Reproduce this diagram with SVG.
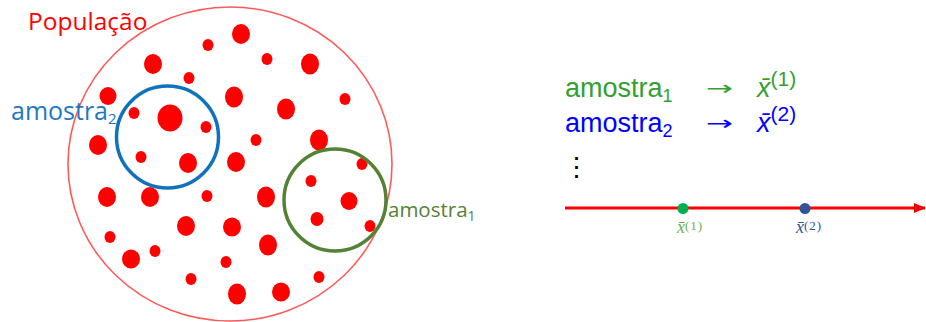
<svg xmlns="http://www.w3.org/2000/svg" width="926" height="322" viewBox="0 0 926 322">
<style>
.dot{fill:#ff0000}
.lbl{font-family:"Open Sans","Liberation Sans",sans-serif}
.tex{font-family:"Liberation Sans",Arial,sans-serif;font-size:27px}
.sub{font-size:18px}
.sup{font-size:21px}
.arr{font-family:"DejaVu Sans",sans-serif;font-size:20px}
.xb{font-family:"Liberation Serif","DejaVu Serif",serif;font-style:italic}
.bsup{font-size:13px;font-style:normal;letter-spacing:1px}
</style>
<defs>
<marker id="ah" viewBox="0 0 12 10" refX="11" refY="5" markerWidth="12" markerHeight="10" markerUnits="userSpaceOnUse" orient="auto">
<path d="M0,0 L12,5 L0,10 Z" fill="#ff0000"/>
</marker>
</defs>
<rect width="926" height="322" fill="#ffffff"/>

<g id="population">
<ellipse cx="230" cy="164" rx="162" ry="157" fill="none" stroke="#ff5a5a" stroke-width="1.6"/>
<g id="population-dots">
<ellipse class="dot" cx="153" cy="64" rx="9" ry="10"/>
<ellipse class="dot" cx="189" cy="78" rx="5.5" ry="6"/>
<ellipse class="dot" cx="108" cy="96" rx="8.5" ry="9"/>
<ellipse class="dot" cx="134" cy="113" rx="5.5" ry="6"/>
<ellipse class="dot" cx="170" cy="118" rx="12.5" ry="13.5"/>
<ellipse class="dot" cx="98" cy="145" rx="9" ry="10"/>
<ellipse class="dot" cx="141" cy="157" rx="5.5" ry="6"/>
<ellipse class="dot" cx="188" cy="163" rx="9" ry="10"/>
<ellipse class="dot" cx="241" cy="34" rx="9" ry="10"/>
<ellipse class="dot" cx="208" cy="45" rx="5.5" ry="6"/>
<ellipse class="dot" cx="267" cy="59" rx="5.5" ry="6"/>
<ellipse class="dot" cx="310" cy="64" rx="9" ry="10.5"/>
<ellipse class="dot" cx="234" cy="97" rx="9" ry="10.5"/>
<ellipse class="dot" cx="345" cy="99" rx="5.5" ry="6"/>
<ellipse class="dot" cx="286" cy="109" rx="9" ry="10.5"/>
<ellipse class="dot" cx="206" cy="127" rx="5.5" ry="6"/>
<ellipse class="dot" cx="256" cy="140" rx="5.5" ry="6"/>
<ellipse class="dot" cx="319" cy="140" rx="9" ry="10.5"/>
<ellipse class="dot" cx="236" cy="162" rx="9" ry="10"/>
<ellipse class="dot" cx="362" cy="164" rx="5.5" ry="6"/>
<ellipse class="dot" cx="311" cy="181" rx="5.5" ry="6"/>
<ellipse class="dot" cx="207" cy="196" rx="5.5" ry="6"/>
<ellipse class="dot" cx="266" cy="197" rx="9" ry="10.5"/>
<ellipse class="dot" cx="349" cy="201" rx="8.5" ry="9"/>
<ellipse class="dot" cx="317" cy="219" rx="6.5" ry="7"/>
<ellipse class="dot" cx="370" cy="226" rx="5.5" ry="6"/>
<ellipse class="dot" cx="186" cy="226" rx="9" ry="10"/>
<ellipse class="dot" cx="232" cy="227" rx="9" ry="9.5"/>
<ellipse class="dot" cx="268" cy="245" rx="9" ry="10.5"/>
<ellipse class="dot" cx="226" cy="262" rx="5.5" ry="6"/>
<ellipse class="dot" cx="191" cy="279" rx="5.5" ry="6"/>
<ellipse class="dot" cx="319" cy="277" rx="5.5" ry="6"/>
<ellipse class="dot" cx="237" cy="294" rx="9" ry="10.5"/>
<ellipse class="dot" cx="281" cy="292" rx="9" ry="9.5"/>
<ellipse class="dot" cx="107" cy="197" rx="9" ry="10"/>
<ellipse class="dot" cx="150" cy="197" rx="9" ry="10"/>
<ellipse class="dot" cx="110" cy="237" rx="5.5" ry="6"/>
<ellipse class="dot" cx="131" cy="259" rx="9" ry="9.5"/>
<ellipse class="dot" cx="155" cy="251" rx="5.5" ry="6"/>
</g>
<text class="lbl" x="28" y="30" font-size="24.5" fill="#ff0000">População</text>
</g>

<g id="sample2">
<circle cx="167.5" cy="137" r="51" fill="none" stroke="#0f72bd" stroke-width="3.5"/>
<text class="lbl" x="11" y="120" font-size="25" fill="#1f78c1">amostra<tspan font-size="15" dy="4">2</tspan></text>
</g>

<g id="sample1">
<circle cx="335" cy="200" r="51" fill="none" stroke="#548235" stroke-width="3.5"/>
<text class="lbl" x="388" y="217" font-size="20.5" fill="#548235">amostra<tspan font-size="14" dy="4">1</tspan></text>
</g>

<g id="row1" fill="#33a033">
<text class="tex" x="565" y="97">amostra<tspan class="sub" dy="5">1</tspan></text>
<text class="arr" x="706" y="95" textLength="27" lengthAdjust="spacingAndGlyphs">→</text>
<text class="tex" x="757" y="97"><tspan font-style="italic">x̄</tspan><tspan class="sup" dy="-11">(1)</tspan></text>
</g>

<g id="row2" fill="#0000ff">
<text class="tex" x="565" y="132">amostra<tspan class="sub" dy="5">2</tspan></text>
<text class="arr" x="706" y="130" textLength="27" lengthAdjust="spacingAndGlyphs">→</text>
<text class="tex" x="757" y="132"><tspan font-style="italic">x̄</tspan><tspan class="sup" dy="-11">(2)</tspan></text>
</g>

<g id="vdots">
<text class="tex" x="563" y="176" fill="#000000">⋮</text>
</g>

<g id="connectors">
<line x1="565" y1="208" x2="925" y2="208" stroke="#ff0000" stroke-width="3" marker-end="url(#ah)"/>
</g>

<g id="mean1">
<circle cx="683" cy="208.5" r="5.5" fill="#00b050"/>
<text class="xb" x="677" y="233" font-size="18" fill="#70ad47">x̄<tspan class="bsup" dy="-3">(1)</tspan></text>
</g>

<g id="mean2">
<circle cx="805" cy="208.5" r="5.5" fill="#2f5597"/>
<text class="xb" x="796" y="233" font-size="18" fill="#2f5597">x̄<tspan class="bsup" dy="-3">(2)</tspan></text>
</g>
</svg>
